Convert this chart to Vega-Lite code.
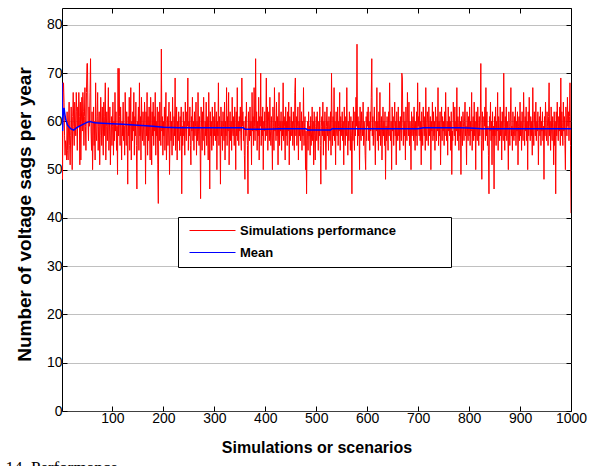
{"$schema":"https://vega.github.io/schema/vega-lite/v6.json","width":509,"height":403,"autosize":"none","padding":{"left":62,"top":8,"right":25,"bottom":55},"background":"white",
"title":{"text":"14. Performance","orient":"bottom","anchor":"start","font":"Liberation Serif","fontSize":17,"fontWeight":"normal","color":"black","offset":5,"dx":-10},
"config":{"view":{"stroke":"black","strokeWidth":1},"font":"Liberation Sans","axis":{"labelFont":"Liberation Sans","titleFont":"Liberation Sans","labelColor":"black","titleColor":"black","tickColor":"black"}},
"datasets":{"sim":[
{"i":1,"v":68},{"i":2,"v":48},{"i":3,"v":66},{"i":4,"v":68},{"i":5,"v":64},{"i":6,"v":57},{"i":7,"v":53},{"i":8,"v":56},{"i":9,"v":55},{"i":10,"v":52},
{"i":11,"v":62},{"i":12,"v":54},{"i":13,"v":52},{"i":14,"v":60},{"i":15,"v":64},{"i":16,"v":55},{"i":17,"v":51},{"i":18,"v":57},{"i":19,"v":63},{"i":20,"v":58},
{"i":21,"v":50},{"i":22,"v":61},{"i":23,"v":66},{"i":24,"v":59},{"i":25,"v":55},{"i":26,"v":64},{"i":27,"v":60},{"i":28,"v":57},{"i":29,"v":66},{"i":30,"v":62},
{"i":31,"v":54},{"i":32,"v":63},{"i":33,"v":59},{"i":34,"v":66},{"i":35,"v":61},{"i":36,"v":51},{"i":37,"v":64},{"i":38,"v":52},{"i":39,"v":60},{"i":40,"v":65},
{"i":41,"v":58},{"i":42,"v":66},{"i":43,"v":62},{"i":44,"v":55},{"i":45,"v":61},{"i":46,"v":67},{"i":47,"v":59},{"i":48,"v":54},{"i":49,"v":66},{"i":50,"v":72},
{"i":51,"v":72},{"i":52,"v":60},{"i":53,"v":56},{"i":54,"v":63},{"i":55,"v":59},{"i":56,"v":66},{"i":57,"v":73},{"i":58,"v":58},{"i":59,"v":54},{"i":60,"v":62},
{"i":61,"v":50},{"i":62,"v":57},{"i":63,"v":63},{"i":64,"v":55},{"i":65,"v":60},{"i":66,"v":52},{"i":67,"v":68},{"i":68,"v":58},{"i":69,"v":56},{"i":70,"v":61},
{"i":71,"v":66},{"i":72,"v":54},{"i":73,"v":59},{"i":74,"v":62},{"i":75,"v":51},{"i":76,"v":57},{"i":77,"v":65},{"i":78,"v":60},{"i":79,"v":55},{"i":80,"v":63},
{"i":81,"v":58},{"i":82,"v":53},{"i":83,"v":64},{"i":84,"v":57},{"i":85,"v":61},{"i":86,"v":68},{"i":87,"v":52},{"i":88,"v":59},{"i":89,"v":62},{"i":90,"v":56},
{"i":91,"v":60},{"i":92,"v":67},{"i":93,"v":54},{"i":94,"v":58},{"i":95,"v":63},{"i":96,"v":51},{"i":97,"v":57},{"i":98,"v":61},{"i":99,"v":55},{"i":100,"v":59},
{"i":101,"v":64},{"i":102,"v":53},{"i":103,"v":60},{"i":104,"v":56},{"i":105,"v":66},{"i":106,"v":58},{"i":107,"v":62},{"i":108,"v":54},{"i":109,"v":59},{"i":110,"v":49},
{"i":111,"v":71},{"i":112,"v":57},{"i":113,"v":71},{"i":114,"v":61},{"i":115,"v":55},{"i":116,"v":63},{"i":117,"v":58},{"i":118,"v":52},{"i":119,"v":60},{"i":120,"v":57},
{"i":121,"v":64},{"i":122,"v":56},{"i":123,"v":59},{"i":124,"v":53},{"i":125,"v":66},{"i":126,"v":60},{"i":127,"v":55},{"i":128,"v":62},{"i":129,"v":58},{"i":130,"v":47},
{"i":131,"v":61},{"i":132,"v":57},{"i":133,"v":65},{"i":134,"v":54},{"i":135,"v":59},{"i":136,"v":67},{"i":137,"v":52},{"i":138,"v":60},{"i":139,"v":56},{"i":140,"v":62},
{"i":141,"v":58},{"i":142,"v":66},{"i":143,"v":53},{"i":144,"v":61},{"i":145,"v":57},{"i":146,"v":64},{"i":147,"v":55},{"i":148,"v":46},{"i":149,"v":60},{"i":150,"v":59},
{"i":151,"v":63},{"i":152,"v":54},{"i":153,"v":68},{"i":154,"v":57},{"i":155,"v":61},{"i":156,"v":52},{"i":157,"v":65},{"i":158,"v":58},{"i":159,"v":56},{"i":160,"v":62},
{"i":161,"v":59},{"i":162,"v":55},{"i":163,"v":64},{"i":164,"v":60},{"i":165,"v":47},{"i":166,"v":62},{"i":167,"v":57},{"i":168,"v":66},{"i":169,"v":53},{"i":170,"v":61},
{"i":171,"v":56},{"i":172,"v":63},{"i":173,"v":58},{"i":174,"v":52},{"i":175,"v":65},{"i":176,"v":60},{"i":177,"v":51},{"i":178,"v":62},{"i":179,"v":57},{"i":180,"v":64},
{"i":181,"v":55},{"i":182,"v":61},{"i":183,"v":58},{"i":184,"v":66},{"i":185,"v":53},{"i":186,"v":60},{"i":187,"v":57},{"i":188,"v":63},{"i":189,"v":51},{"i":190,"v":43},
{"i":191,"v":62},{"i":192,"v":56},{"i":193,"v":64},{"i":194,"v":59},{"i":195,"v":55},{"i":196,"v":75},{"i":197,"v":58},{"i":198,"v":61},{"i":199,"v":53},{"i":200,"v":60},
{"i":201,"v":57},{"i":202,"v":63},{"i":203,"v":54},{"i":204,"v":60},{"i":205,"v":66},{"i":206,"v":52},{"i":207,"v":58},{"i":208,"v":61},{"i":209,"v":55},{"i":210,"v":59},
{"i":211,"v":64},{"i":212,"v":49},{"i":213,"v":57},{"i":214,"v":62},{"i":215,"v":56},{"i":216,"v":60},{"i":217,"v":53},{"i":218,"v":65},{"i":219,"v":58},{"i":220,"v":55},
{"i":221,"v":61},{"i":222,"v":57},{"i":223,"v":69},{"i":224,"v":54},{"i":225,"v":59},{"i":226,"v":63},{"i":227,"v":52},{"i":228,"v":60},{"i":229,"v":56},{"i":230,"v":62},
{"i":231,"v":58},{"i":232,"v":54},{"i":233,"v":61},{"i":234,"v":57},{"i":235,"v":63},{"i":236,"v":45},{"i":237,"v":59},{"i":238,"v":55},{"i":239,"v":62},{"i":240,"v":57},
{"i":241,"v":60},{"i":242,"v":53},{"i":243,"v":64},{"i":244,"v":58},{"i":245,"v":56},{"i":246,"v":62},{"i":247,"v":59},{"i":248,"v":69},{"i":249,"v":54},{"i":250,"v":60},
{"i":251,"v":57},{"i":252,"v":63},{"i":253,"v":55},{"i":254,"v":51},{"i":255,"v":61},{"i":256,"v":58},{"i":257,"v":65},{"i":258,"v":56},{"i":259,"v":60},{"i":260,"v":54},
{"i":261,"v":62},{"i":262,"v":57},{"i":263,"v":59},{"i":264,"v":64},{"i":265,"v":53},{"i":266,"v":60},{"i":267,"v":56},{"i":268,"v":66},{"i":269,"v":58},{"i":270,"v":55},
{"i":271,"v":61},{"i":272,"v":57},{"i":273,"v":44},{"i":274,"v":63},{"i":275,"v":59},{"i":276,"v":54},{"i":277,"v":62},{"i":278,"v":56},{"i":279,"v":65},{"i":280,"v":58},
{"i":281,"v":53},{"i":282,"v":60},{"i":283,"v":57},{"i":284,"v":64},{"i":285,"v":55},{"i":286,"v":61},{"i":287,"v":58},{"i":288,"v":52},{"i":289,"v":66},{"i":290,"v":59},
{"i":291,"v":46},{"i":292,"v":62},{"i":293,"v":57},{"i":294,"v":60},{"i":295,"v":54},{"i":296,"v":63},{"i":297,"v":58},{"i":298,"v":55},{"i":299,"v":61},{"i":300,"v":57},
{"i":301,"v":64},{"i":302,"v":56},{"i":303,"v":59},{"i":304,"v":62},{"i":305,"v":50},{"i":306,"v":60},{"i":307,"v":57},{"i":308,"v":68},{"i":309,"v":55},{"i":310,"v":61},
{"i":311,"v":58},{"i":312,"v":47},{"i":313,"v":63},{"i":314,"v":57},{"i":315,"v":60},{"i":316,"v":54},{"i":317,"v":62},{"i":318,"v":59},{"i":319,"v":56},{"i":320,"v":64},
{"i":321,"v":52},{"i":322,"v":60},{"i":323,"v":57},{"i":324,"v":67},{"i":325,"v":55},{"i":326,"v":61},{"i":327,"v":58},{"i":328,"v":66},{"i":329,"v":51},{"i":330,"v":59},
{"i":331,"v":62},{"i":332,"v":56},{"i":333,"v":60},{"i":334,"v":54},{"i":335,"v":65},{"i":336,"v":58},{"i":337,"v":57},{"i":338,"v":61},{"i":339,"v":55},{"i":340,"v":63},
{"i":341,"v":59},{"i":342,"v":50},{"i":343,"v":62},{"i":344,"v":57},{"i":345,"v":67},{"i":346,"v":56},{"i":347,"v":60},{"i":348,"v":55},{"i":349,"v":61},{"i":350,"v":58},
{"i":351,"v":63},{"i":352,"v":57},{"i":353,"v":54},{"i":354,"v":69},{"i":355,"v":59},{"i":356,"v":62},{"i":357,"v":56},{"i":358,"v":60},{"i":359,"v":53},{"i":360,"v":48},
{"i":361,"v":61},{"i":362,"v":57},{"i":363,"v":64},{"i":364,"v":58},{"i":365,"v":55},{"i":366,"v":45},{"i":367,"v":62},{"i":368,"v":59},{"i":369,"v":56},{"i":370,"v":63},
{"i":371,"v":57},{"i":372,"v":60},{"i":373,"v":51},{"i":374,"v":66},{"i":375,"v":58},{"i":376,"v":61},{"i":377,"v":55},{"i":378,"v":67},{"i":379,"v":59},{"i":380,"v":56},
{"i":381,"v":73},{"i":382,"v":58},{"i":383,"v":62},{"i":384,"v":54},{"i":385,"v":60},{"i":386,"v":57},{"i":387,"v":65},{"i":388,"v":52},{"i":389,"v":61},{"i":390,"v":59},
{"i":391,"v":70},{"i":392,"v":55},{"i":393,"v":61},{"i":394,"v":57},{"i":395,"v":63},{"i":396,"v":50},{"i":397,"v":60},{"i":398,"v":58},{"i":399,"v":62},{"i":400,"v":56},
{"i":401,"v":59},{"i":402,"v":69},{"i":403,"v":57},{"i":404,"v":63},{"i":405,"v":54},{"i":406,"v":60},{"i":407,"v":62},{"i":408,"v":56},{"i":409,"v":65},{"i":410,"v":58},
{"i":411,"v":55},{"i":412,"v":61},{"i":413,"v":57},{"i":414,"v":50},{"i":415,"v":63},{"i":416,"v":59},{"i":417,"v":54},{"i":418,"v":67},{"i":419,"v":58},{"i":420,"v":60},
{"i":421,"v":56},{"i":422,"v":64},{"i":423,"v":57},{"i":424,"v":61},{"i":425,"v":51},{"i":426,"v":59},{"i":427,"v":66},{"i":428,"v":55},{"i":429,"v":60},{"i":430,"v":58},
{"i":431,"v":62},{"i":432,"v":54},{"i":433,"v":60},{"i":434,"v":57},{"i":435,"v":68},{"i":436,"v":56},{"i":437,"v":61},{"i":438,"v":59},{"i":439,"v":52},{"i":440,"v":63},
{"i":441,"v":57},{"i":442,"v":60},{"i":443,"v":55},{"i":444,"v":62},{"i":445,"v":58},{"i":446,"v":64},{"i":447,"v":51},{"i":448,"v":61},{"i":449,"v":56},{"i":450,"v":59},
{"i":451,"v":63},{"i":452,"v":57},{"i":453,"v":60},{"i":454,"v":55},{"i":455,"v":62},{"i":456,"v":58},{"i":457,"v":54},{"i":458,"v":66},{"i":459,"v":69},{"i":460,"v":57},
{"i":461,"v":61},{"i":462,"v":55},{"i":463,"v":59},{"i":464,"v":63},{"i":465,"v":52},{"i":466,"v":60},{"i":467,"v":57},{"i":468,"v":64},{"i":469,"v":56},{"i":470,"v":58},
{"i":471,"v":62},{"i":472,"v":54},{"i":473,"v":60},{"i":474,"v":57},{"i":475,"v":67},{"i":476,"v":55},{"i":477,"v":59},{"i":478,"v":61},{"i":479,"v":50},{"i":480,"v":58},
{"i":481,"v":45},{"i":482,"v":56},{"i":483,"v":60},{"i":484,"v":54},{"i":485,"v":62},{"i":486,"v":57},{"i":487,"v":59},{"i":488,"v":53},{"i":489,"v":61},{"i":490,"v":55},
{"i":491,"v":58},{"i":492,"v":63},{"i":493,"v":56},{"i":494,"v":60},{"i":495,"v":51},{"i":496,"v":62},{"i":497,"v":57},{"i":498,"v":52},{"i":499,"v":59},{"i":500,"v":61},
{"i":501,"v":56},{"i":502,"v":62},{"i":503,"v":58},{"i":504,"v":54},{"i":505,"v":60},{"i":506,"v":57},{"i":507,"v":63},{"i":508,"v":55},{"i":509,"v":47},{"i":510,"v":59},
{"i":511,"v":61},{"i":512,"v":57},{"i":513,"v":64},{"i":514,"v":53},{"i":515,"v":60},{"i":516,"v":56},{"i":517,"v":62},{"i":518,"v":58},{"i":519,"v":50},{"i":520,"v":59},
{"i":521,"v":63},{"i":522,"v":57},{"i":523,"v":60},{"i":524,"v":54},{"i":525,"v":61},{"i":526,"v":58},{"i":527,"v":56},{"i":528,"v":62},{"i":529,"v":53},{"i":530,"v":70},
{"i":531,"v":59},{"i":532,"v":55},{"i":533,"v":61},{"i":534,"v":57},{"i":535,"v":67},{"i":536,"v":56},{"i":537,"v":60},{"i":538,"v":51},{"i":539,"v":62},{"i":540,"v":58},
{"i":541,"v":57},{"i":542,"v":63},{"i":543,"v":55},{"i":544,"v":60},{"i":545,"v":58},{"i":546,"v":66},{"i":547,"v":54},{"i":548,"v":61},{"i":549,"v":57},{"i":550,"v":59},
{"i":551,"v":62},{"i":552,"v":56},{"i":553,"v":60},{"i":554,"v":51},{"i":555,"v":63},{"i":556,"v":58},{"i":557,"v":55},{"i":558,"v":61},{"i":559,"v":57},{"i":560,"v":67},
{"i":561,"v":58},{"i":562,"v":53},{"i":563,"v":60},{"i":564,"v":56},{"i":565,"v":62},{"i":566,"v":59},{"i":567,"v":54},{"i":568,"v":61},{"i":569,"v":57},{"i":570,"v":45},
{"i":571,"v":60},{"i":572,"v":56},{"i":573,"v":63},{"i":574,"v":58},{"i":575,"v":54},{"i":576,"v":62},{"i":577,"v":57},{"i":578,"v":65},{"i":579,"v":59},{"i":580,"v":76},
{"i":581,"v":55},{"i":582,"v":61},{"i":583,"v":57},{"i":584,"v":60},{"i":585,"v":50},{"i":586,"v":63},{"i":587,"v":58},{"i":588,"v":56},{"i":589,"v":62},{"i":590,"v":59},
{"i":591,"v":57},{"i":592,"v":64},{"i":593,"v":55},{"i":594,"v":60},{"i":595,"v":58},{"i":596,"v":53},{"i":597,"v":50},{"i":598,"v":61},{"i":599,"v":56},{"i":600,"v":62},
{"i":601,"v":59},{"i":602,"v":63},{"i":603,"v":56},{"i":604,"v":60},{"i":605,"v":54},{"i":606,"v":62},{"i":607,"v":58},{"i":608,"v":65},{"i":609,"v":73},{"i":610,"v":57},
{"i":611,"v":61},{"i":612,"v":55},{"i":613,"v":59},{"i":614,"v":63},{"i":615,"v":57},{"i":616,"v":51},{"i":617,"v":60},{"i":618,"v":58},{"i":619,"v":67},{"i":620,"v":56},
{"i":621,"v":60},{"i":622,"v":54},{"i":623,"v":62},{"i":624,"v":57},{"i":625,"v":66},{"i":626,"v":55},{"i":627,"v":59},{"i":628,"v":61},{"i":629,"v":52},{"i":630,"v":58},
{"i":631,"v":63},{"i":632,"v":57},{"i":633,"v":60},{"i":634,"v":55},{"i":635,"v":62},{"i":636,"v":48},{"i":637,"v":59},{"i":638,"v":56},{"i":639,"v":61},{"i":640,"v":58},
{"i":641,"v":54},{"i":642,"v":62},{"i":643,"v":57},{"i":644,"v":68},{"i":645,"v":59},{"i":646,"v":56},{"i":647,"v":60},{"i":648,"v":50},{"i":649,"v":63},{"i":650,"v":58},
{"i":651,"v":61},{"i":652,"v":55},{"i":653,"v":59},{"i":654,"v":64},{"i":655,"v":57},{"i":656,"v":60},{"i":657,"v":51},{"i":658,"v":62},{"i":659,"v":58},{"i":660,"v":56},
{"i":661,"v":63},{"i":662,"v":57},{"i":663,"v":60},{"i":664,"v":54},{"i":665,"v":61},{"i":666,"v":58},{"i":667,"v":56},{"i":668,"v":70},{"i":669,"v":69},{"i":670,"v":59},
{"i":671,"v":55},{"i":672,"v":62},{"i":673,"v":57},{"i":674,"v":60},{"i":675,"v":52},{"i":676,"v":63},{"i":677,"v":58},{"i":678,"v":56},{"i":679,"v":66},{"i":680,"v":59},
{"i":681,"v":57},{"i":682,"v":64},{"i":683,"v":55},{"i":684,"v":60},{"i":685,"v":58},{"i":686,"v":50},{"i":687,"v":62},{"i":688,"v":57},{"i":689,"v":59},{"i":690,"v":61},
{"i":691,"v":56},{"i":692,"v":63},{"i":693,"v":58},{"i":694,"v":54},{"i":695,"v":60},{"i":696,"v":57},{"i":697,"v":62},{"i":698,"v":55},{"i":699,"v":68},{"i":700,"v":59},
{"i":701,"v":61},{"i":702,"v":57},{"i":703,"v":64},{"i":704,"v":56},{"i":705,"v":60},{"i":706,"v":51},{"i":707,"v":62},{"i":708,"v":58},{"i":709,"v":55},{"i":710,"v":63},
{"i":711,"v":59},{"i":712,"v":57},{"i":713,"v":61},{"i":714,"v":54},{"i":715,"v":67},{"i":716,"v":58},{"i":717,"v":56},{"i":718,"v":62},{"i":719,"v":60},{"i":720,"v":55},
{"i":721,"v":63},{"i":722,"v":57},{"i":723,"v":59},{"i":724,"v":61},{"i":725,"v":50},{"i":726,"v":60},{"i":727,"v":58},{"i":728,"v":64},{"i":729,"v":56},{"i":730,"v":62},
{"i":731,"v":57},{"i":732,"v":60},{"i":733,"v":54},{"i":734,"v":63},{"i":735,"v":59},{"i":736,"v":56},{"i":737,"v":61},{"i":738,"v":58},{"i":739,"v":67},{"i":740,"v":55},
{"i":741,"v":60},{"i":742,"v":57},{"i":743,"v":62},{"i":744,"v":51},{"i":745,"v":59},{"i":746,"v":63},{"i":747,"v":56},{"i":748,"v":61},{"i":749,"v":58},{"i":750,"v":60},
{"i":751,"v":55},{"i":752,"v":62},{"i":753,"v":57},{"i":754,"v":66},{"i":755,"v":59},{"i":756,"v":56},{"i":757,"v":60},{"i":758,"v":53},{"i":759,"v":63},{"i":760,"v":58},
{"i":761,"v":61},{"i":762,"v":57},{"i":763,"v":60},{"i":764,"v":54},{"i":765,"v":62},{"i":766,"v":49},{"i":767,"v":58},{"i":768,"v":56},{"i":769,"v":64},{"i":770,"v":59},
{"i":771,"v":57},{"i":772,"v":63},{"i":773,"v":55},{"i":774,"v":60},{"i":775,"v":58},{"i":776,"v":67},{"i":777,"v":56},{"i":778,"v":61},{"i":779,"v":59},{"i":780,"v":54},
{"i":781,"v":63},{"i":782,"v":57},{"i":783,"v":60},{"i":784,"v":49},{"i":785,"v":61},{"i":786,"v":58},{"i":787,"v":55},{"i":788,"v":62},{"i":789,"v":59},{"i":790,"v":56},
{"i":791,"v":60},{"i":792,"v":64},{"i":793,"v":57},{"i":794,"v":59},{"i":795,"v":51},{"i":796,"v":62},{"i":797,"v":58},{"i":798,"v":56},{"i":799,"v":61},{"i":800,"v":57},
{"i":801,"v":63},{"i":802,"v":55},{"i":803,"v":60},{"i":804,"v":58},{"i":805,"v":66},{"i":806,"v":54},{"i":807,"v":59},{"i":808,"v":61},{"i":809,"v":56},{"i":810,"v":64},
{"i":811,"v":57},{"i":812,"v":60},{"i":813,"v":50},{"i":814,"v":62},{"i":815,"v":58},{"i":816,"v":56},{"i":817,"v":63},{"i":818,"v":59},{"i":819,"v":55},{"i":820,"v":61},
{"i":821,"v":57},{"i":822,"v":60},{"i":823,"v":72},{"i":824,"v":56},{"i":825,"v":48},{"i":826,"v":62},{"i":827,"v":58},{"i":828,"v":54},{"i":829,"v":61},{"i":830,"v":59},
{"i":831,"v":63},{"i":832,"v":56},{"i":833,"v":67},{"i":834,"v":57},{"i":835,"v":62},{"i":836,"v":55},{"i":837,"v":59},{"i":838,"v":53},{"i":839,"v":45},{"i":840,"v":61},
{"i":841,"v":58},{"i":842,"v":64},{"i":843,"v":56},{"i":844,"v":60},{"i":845,"v":51},{"i":846,"v":62},{"i":847,"v":57},{"i":848,"v":59},{"i":849,"v":46},{"i":850,"v":61},
{"i":851,"v":57},{"i":852,"v":63},{"i":853,"v":55},{"i":854,"v":60},{"i":855,"v":58},{"i":856,"v":66},{"i":857,"v":54},{"i":858,"v":61},{"i":859,"v":59},{"i":860,"v":56},
{"i":861,"v":63},{"i":862,"v":57},{"i":863,"v":60},{"i":864,"v":52},{"i":865,"v":62},{"i":866,"v":58},{"i":867,"v":56},{"i":868,"v":70},{"i":869,"v":59},{"i":870,"v":54},
{"i":871,"v":61},{"i":872,"v":57},{"i":873,"v":63},{"i":874,"v":56},{"i":875,"v":60},{"i":876,"v":58},{"i":877,"v":50},{"i":878,"v":62},{"i":879,"v":59},{"i":880,"v":55},
{"i":881,"v":60},{"i":882,"v":67},{"i":883,"v":57},{"i":884,"v":59},{"i":885,"v":54},{"i":886,"v":62},{"i":887,"v":58},{"i":888,"v":56},{"i":889,"v":61},{"i":890,"v":57},
{"i":891,"v":63},{"i":892,"v":55},{"i":893,"v":60},{"i":894,"v":58},{"i":895,"v":62},{"i":896,"v":51},{"i":897,"v":59},{"i":898,"v":61},{"i":899,"v":56},{"i":900,"v":64},
{"i":901,"v":57},{"i":902,"v":60},{"i":903,"v":54},{"i":904,"v":62},{"i":905,"v":58},{"i":906,"v":56},{"i":907,"v":66},{"i":908,"v":59},{"i":909,"v":55},{"i":910,"v":61},
{"i":911,"v":58},{"i":912,"v":63},{"i":913,"v":56},{"i":914,"v":60},{"i":915,"v":50},{"i":916,"v":62},{"i":917,"v":57},{"i":918,"v":65},{"i":919,"v":59},{"i":920,"v":56},
{"i":921,"v":61},{"i":922,"v":57},{"i":923,"v":60},{"i":924,"v":53},{"i":925,"v":67},{"i":926,"v":58},{"i":927,"v":55},{"i":928,"v":62},{"i":929,"v":59},{"i":930,"v":57},
{"i":931,"v":64},{"i":932,"v":56},{"i":933,"v":60},{"i":934,"v":58},{"i":935,"v":62},{"i":936,"v":51},{"i":937,"v":59},{"i":938,"v":61},{"i":939,"v":57},{"i":940,"v":63},
{"i":941,"v":55},{"i":942,"v":60},{"i":943,"v":58},{"i":944,"v":62},{"i":945,"v":56},{"i":946,"v":59},{"i":947,"v":48},{"i":948,"v":61},{"i":949,"v":57},{"i":950,"v":64},
{"i":951,"v":58},{"i":952,"v":56},{"i":953,"v":62},{"i":954,"v":59},{"i":955,"v":55},{"i":956,"v":61},{"i":957,"v":68},{"i":958,"v":57},{"i":959,"v":60},{"i":960,"v":54},
{"i":961,"v":63},{"i":962,"v":58},{"i":963,"v":56},{"i":964,"v":61},{"i":965,"v":59},{"i":966,"v":51},{"i":967,"v":62},{"i":968,"v":55},{"i":969,"v":60},{"i":970,"v":45},
{"i":971,"v":62},{"i":972,"v":57},{"i":973,"v":64},{"i":974,"v":59},{"i":975,"v":56},{"i":976,"v":61},{"i":977,"v":58},{"i":978,"v":63},{"i":979,"v":55},{"i":980,"v":69},
{"i":981,"v":57},{"i":982,"v":62},{"i":983,"v":59},{"i":984,"v":55},{"i":985,"v":64},{"i":986,"v":58},{"i":987,"v":61},{"i":988,"v":56},{"i":989,"v":50},{"i":990,"v":63},
{"i":991,"v":60},{"i":992,"v":57},{"i":993,"v":65},{"i":994,"v":59},{"i":995,"v":62},{"i":996,"v":56},{"i":997,"v":61},{"i":998,"v":68},{"i":999,"v":55},{"i":1000,"v":41}],
"mean":[{"i":1,"m":68},{"i":2,"m":58},{"i":3,"m":60.7},{"i":4,"m":62.5},{"i":5,"m":62.8},{"i":6,"m":62},{"i":8,"m":60.5},{"i":12,"m":59.2},{"i":18,"m":58.5},{"i":24,"m":58.2},{"i":30,"m":58.7},{"i":40,"m":59.3},{"i":50,"m":59.8},{"i":56,"m":60},{"i":65,"m":59.7},{"i":80,"m":59.6},{"i":100,"m":59.5},{"i":120,"m":59.4},{"i":150,"m":59.2},{"i":180,"m":59},{"i":200,"m":58.8},{"i":230,"m":58.7},{"i":300,"m":58.7},{"i":357,"m":58.7},{"i":360,"m":58.4},{"i":400,"m":58.4},{"i":430,"m":58.5},{"i":480,"m":58.5},{"i":483,"m":58.2},{"i":528,"m":58.2},{"i":531,"m":58.5},{"i":700,"m":58.5},{"i":710,"m":58.7},{"i":780,"m":58.7},{"i":800,"m":58.65},{"i":825,"m":58.5},{"i":1000,"m":58.5}]},
"resolve":{"axis":{"x":"independent","y":"independent"}},
"layer":[
{"data":{"name":"sim"},"mark":{"type":"line","strokeWidth":1,"clip":true},
"encoding":{
"x":{"field":"i","type":"quantitative","scale":{"domain":[1,1000],"nice":false,"zero":false},"axis":{"orient":"bottom","values":[100,200,300,400,500,600,700,800,900,1000],"format":"d","grid":false,"domain":false,"tickSize":-5,"labelFontSize":14,"labelPadding":5,"labelFlush":false,"title":"Simulations or scenarios","titleFontSize":16,"titleFontWeight":"bold","titlePadding":14}},
"y":{"field":"v","type":"quantitative","scale":{"domain":[0,83.5],"nice":false},"axis":{"orient":"left","values":[0,10,20,30,40,50,60,70,80],"grid":true,"gridColor":"#808080","gridDash":[1,1],"gridWidth":1,"domain":false,"tickSize":-5,"labelFontSize":14,"labelPadding":5,"title":"Number of voltage sags per year","titleFontSize":19,"titleFontWeight":"bold","titlePadding":12,"titleY":206}},
"color":{"datum":"Simulations performance","type":"nominal","scale":{"domain":["Simulations performance","Mean"],"range":["#ff0000","#0000ff"]},"legend":{"orient":"none","legendX":116,"legendY":209,"title":"\u2003\u2003","titleOrient":"right","titleFontSize":13,"titlePadding":48,"symbolType":"M-4.6,0H4.6","symbolSize":100,"symbolOffset":21,"symbolStrokeWidth":1,"labelFont":"Liberation Sans","labelFontWeight":"bold","labelFontSize":13,"labelColor":"black","strokeColor":"black","fillColor":"white","padding":7,"rowPadding":8,"labelOffset":21,"labelLimit":0}}}},
{"data":{"name":"mean"},"mark":{"type":"line","strokeWidth":1.5,"clip":true},
"encoding":{
"x":{"field":"i","type":"quantitative","axis":{"orient":"top","values":[100,200,300,400,500,600,700,800,900,1000],"labels":false,"grid":false,"domain":false,"tickSize":-5,"title":null}},
"y":{"field":"m","type":"quantitative","axis":{"orient":"right","values":[0,10,20,30,40,50,60,70,80],"labels":false,"grid":false,"domain":false,"tickSize":-5,"title":null}},
"color":{"datum":"Mean","type":"nominal"}}}
]}
